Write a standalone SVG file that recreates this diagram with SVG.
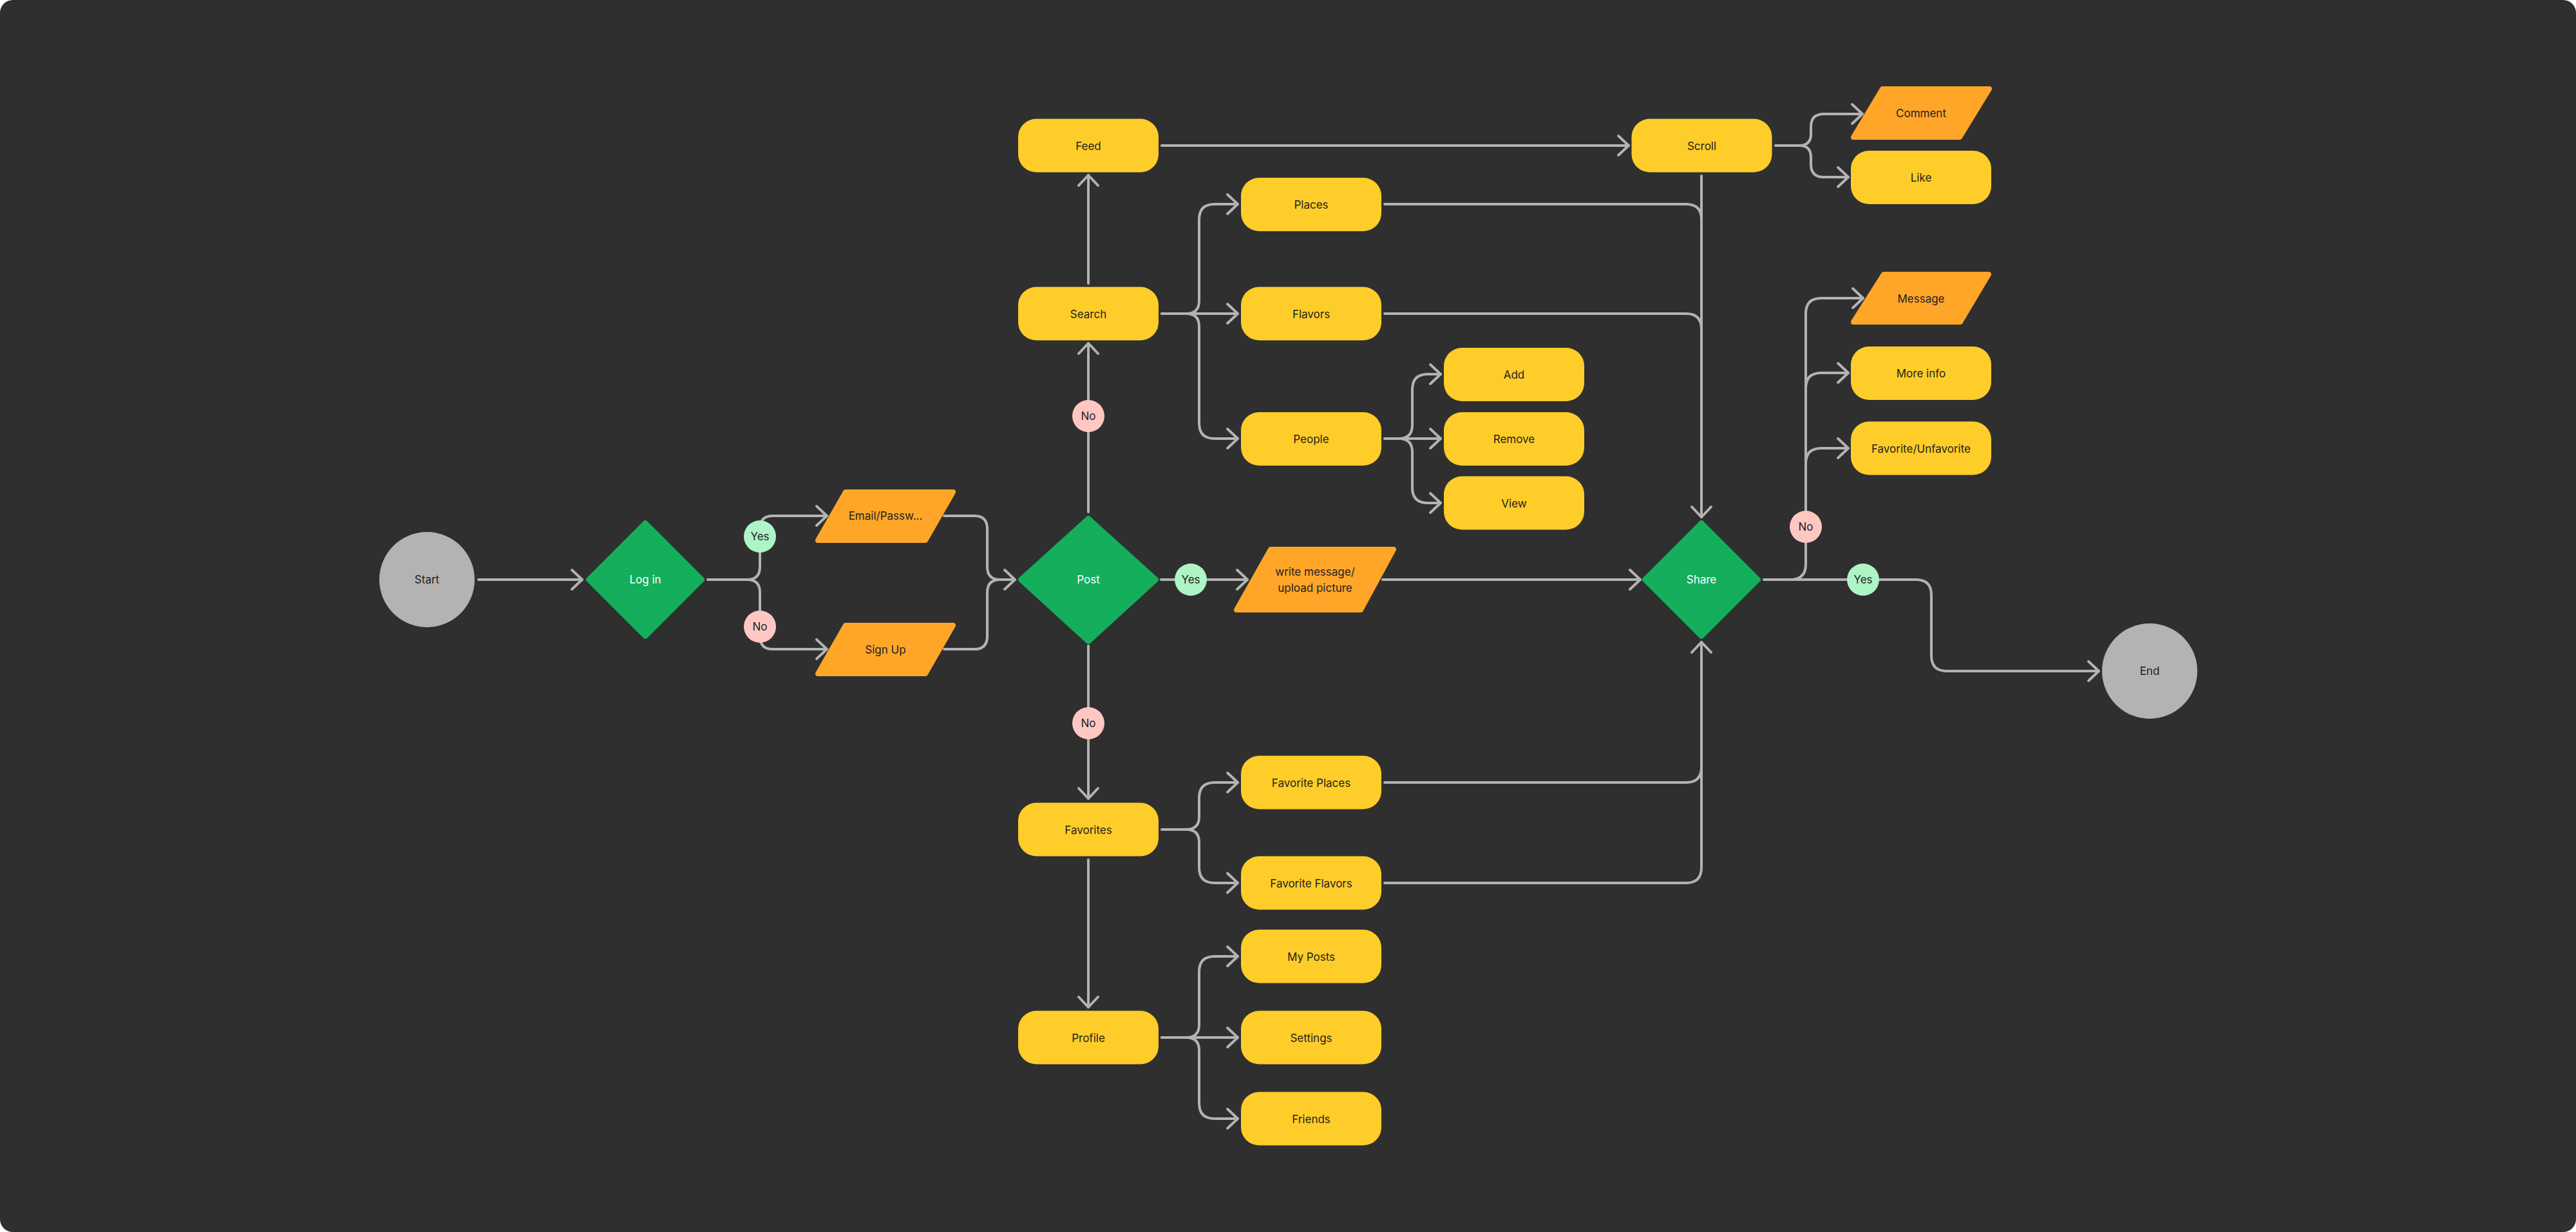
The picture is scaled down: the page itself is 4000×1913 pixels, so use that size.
<svg xmlns="http://www.w3.org/2000/svg" width="4000" height="1913" viewBox="0 0 4000 1913">
<style>
.box{fill:#FFCD29}
.io{fill:#FFA629;stroke:#FFA629;stroke-width:8;stroke-linejoin:round}
.dec{fill:#14AE5C;stroke:#14AE5C;stroke-width:8;stroke-linejoin:round}
.term{fill:#B3B3B3}
.yes{fill:#AFF4C6}
.no{fill:#FFC7C2}
text{font-family:Inter,"Noto Sans","Liberation Sans",sans-serif;font-size:17px;fill:#1E1E1E;text-anchor:middle;dominant-baseline:central}
.wt{fill:#FFFFFF}
.c{fill:none;stroke:#B3B3B3;stroke-width:4;stroke-linecap:round;stroke-linejoin:round}
.a{marker-end:url(#arr)}
</style>
<defs>
<marker id="arr" markerUnits="userSpaceOnUse" viewBox="-20 -20 24 40" refX="0" refY="0" markerWidth="24" markerHeight="40" orient="auto">
<path d="M-16,-15 L0,0 L-16,15" fill="none" stroke="#B3B3B3" stroke-width="4" stroke-linecap="round" stroke-linejoin="round"/>
</marker>
</defs>
<rect width="4000" height="1913" fill="#FFFFFF"/>
<rect width="4000" height="1913" rx="20" fill="#2F2F2F"/>

<g id="connectors">
<path class="c a" d="M743,900 H904"/>
<path class="c a" d="M1099,900 H1160 Q1180,900 1180,880 V821 Q1180,801 1200,801 H1284"/>
<path class="c a" d="M1160,900 Q1180,900 1180,920 V988 Q1180,1008 1200,1008 H1284"/>
<path class="c a" d="M1466,801 H1513 Q1533,801 1533,821 V880 Q1533,900 1553,900 H1576"/>
<path class="c" d="M1466,1008 H1513 Q1533,1008 1533,988 V920 Q1533,900 1553,900"/>
<path class="c a" d="M1690,795 V533"/>
<path class="c a" d="M1690,440 V272"/>
<path class="c a" d="M1804,226 H2529"/>
<path class="c a" d="M1804,487 H1842 Q1862,487 1862,467 V341 Q1862,317 1886,317 H1922"/>
<path class="c a" d="M1804,487 H1922"/>
<path class="c a" d="M1842,487 Q1862,487 1862,507 V657 Q1862,681 1886,681 H1922"/>
<path class="c a" d="M2150,681 H2172 Q2193,681 2193,660 V605 Q2193,581 2217,581 H2237"/>
<path class="c a" d="M2150,681 H2237"/>
<path class="c a" d="M2172,681 Q2193,681 2193,702 V757 Q2193,781 2217,781 H2237"/>
<path class="c a" d="M2757,226 H2794 Q2812,226 2812,208 V197 Q2812,177 2832,177 H2892"/>
<path class="c a" d="M2794,226 Q2812,226 2812,244 V255 Q2812,275 2832,275 H2870"/>
<path class="c a" d="M2642,273 V803"/>
<path class="c" d="M2150,317 H2618 Q2642,317 2642,341"/>
<path class="c" d="M2150,487 H2618 Q2642,487 2642,511"/>
<path class="c a" d="M1803,900 H1937"/>
<path class="c a" d="M2147,900 H2547"/>
<path class="c a" d="M1690,1003 V1240"/>
<path class="c a" d="M1690,1335 V1564"/>
<path class="c a" d="M1804,1288 H1842 Q1862,1288 1862,1268 V1239 Q1862,1215 1886,1215 H1922"/>
<path class="c a" d="M1842,1288 Q1862,1288 1862,1308 V1347 Q1862,1371 1886,1371 H1922"/>
<path class="c a" d="M1804,1611 H1842 Q1862,1611 1862,1591 V1509 Q1862,1485 1886,1485 H1922"/>
<path class="c a" d="M1804,1611 H1922"/>
<path class="c a" d="M1842,1611 Q1862,1611 1862,1631 V1713 Q1862,1737 1886,1737 H1922"/>
<path class="c" d="M2150,1215 H2618 Q2642,1215 2642,1191"/>
<path class="c a" d="M2150,1371 H2618 Q2642,1371 2642,1347 V997"/>
<path class="c a" d="M2739,900 H2975 Q2999,900 2999,924 V1018 Q2999,1042 3023,1042 H3259"/>
<path class="c a" d="M2780,900 Q2804,900 2804,876 V487 Q2804,463 2828,463 H2893"/>
<path class="c a" d="M2804,603 Q2804,579 2828,579 H2870"/>
<path class="c a" d="M2804,720 Q2804,696 2828,696 H2870"/>
<g id="badges">
<circle class="yes" cx="1180" cy="833" r="25"/><text x="1180" y="833">Yes</text>
<circle class="no" cx="1180" cy="973" r="25"/><text x="1180" y="973">No</text>
<circle class="no" cx="1690" cy="646" r="25"/><text x="1690" y="646">No</text>
<circle class="yes" cx="1849" cy="900" r="25"/><text x="1849" y="900">Yes</text>
<circle class="no" cx="1690" cy="1123" r="25"/><text x="1690" y="1123">No</text>
<circle class="no" cx="2804" cy="818" r="25"/><text x="2804" y="818">No</text>
<circle class="yes" cx="2893" cy="900" r="25"/><text x="2893" y="900">Yes</text>
</g>
</g>

<g id="start"><circle class="term" cx="663" cy="900" r="74"/><text x="663" y="900">Start</text></g>
<g id="end"><circle class="term" cx="3338" cy="1042" r="74"/><text x="3338" y="1042">End</text></g>
<g id="login"><polygon class="dec" points="1002,812 1090,900 1002,988 914,900"/><text class="wt" x="1002" y="900">Log in</text></g>
<g id="post"><polygon class="dec" points="1690,805 1795,900 1690,996 1585,900"/><text class="wt" x="1690" y="900">Post</text></g>
<g id="share"><polygon class="dec" points="2642,812 2730,900 2642,988 2554,900"/><text class="wt" x="2642" y="900">Share</text></g>

<g id="email"><polygon class="io" points="1313,764 1480,764 1437,839 1270,839"/><text x="1375" y="801">Email/Passw...</text></g>
<g id="signup"><polygon class="io" points="1313,971 1480,971 1437,1046 1270,1046"/><text x="1375" y="1009">Sign Up</text></g>
<g id="write"><polygon class="io" points="1973,853 2164,853 2113,947 1920,947"/><text x="2042" y="888">write message/</text><text x="2042" y="913">upload picture</text></g>
<g id="comment"><polygon class="io" points="2923,138 3089,138 3043,213 2878,213"/><text x="2983" y="176">Comment</text></g>
<g id="message"><polygon class="io" points="2925,426 3088,426 3044,500 2878,500"/><text x="2983" y="464">Message</text></g>

<g id="feed"><rect class="box" x="1581" y="184.5" width="218" height="83" rx="28"/><text x="1690" y="227">Feed</text></g>
<g id="search"><rect class="box" x="1581" y="445.5" width="218" height="83" rx="28"/><text x="1690" y="488">Search</text></g>
<g id="places"><rect class="box" x="1927" y="276" width="218" height="83" rx="28"/><text x="2036" y="318">Places</text></g>
<g id="flavors"><rect class="box" x="1927" y="445.5" width="218" height="83" rx="28"/><text x="2036" y="488">Flavors</text></g>
<g id="people"><rect class="box" x="1927" y="640" width="218" height="83" rx="28"/><text x="2036" y="682">People</text></g>
<g id="add"><rect class="box" x="2242" y="540" width="218" height="83" rx="28"/><text x="2351" y="582">Add</text></g>
<g id="remove"><rect class="box" x="2242" y="640" width="218" height="83" rx="28"/><text x="2351" y="682">Remove</text></g>
<g id="view"><rect class="box" x="2242" y="739.5" width="218" height="83" rx="28"/><text x="2351" y="782">View</text></g>
<g id="scroll"><rect class="box" x="2533.5" y="184.5" width="218" height="83" rx="28"/><text x="2642.5" y="227">Scroll</text></g>
<g id="like"><rect class="box" x="2874" y="234" width="218" height="83" rx="28"/><text x="2983" y="276">Like</text></g>
<g id="moreinfo"><rect class="box" x="2874" y="538" width="218" height="83" rx="28"/><text x="2983" y="580">More info</text></g>
<g id="favunfav"><rect class="box" x="2874" y="654.5" width="218" height="83" rx="28"/><text x="2983" y="697">Favorite/Unfavorite</text></g>
<g id="favorites"><rect class="box" x="1581" y="1246.5" width="218" height="83" rx="28"/><text x="1690" y="1289">Favorites</text></g>
<g id="favplaces"><rect class="box" x="1927" y="1173.5" width="218" height="83" rx="28"/><text x="2036" y="1216">Favorite Places</text></g>
<g id="favflavors"><rect class="box" x="1927" y="1329.5" width="218" height="83" rx="28"/><text x="2036" y="1372">Favorite Flavors</text></g>
<g id="myposts"><rect class="box" x="1927" y="1443.5" width="218" height="83" rx="28"/><text x="2036" y="1486">My Posts</text></g>
<g id="profile"><rect class="box" x="1581" y="1569.5" width="218" height="83" rx="28"/><text x="1690" y="1612">Profile</text></g>
<g id="settings"><rect class="box" x="1927" y="1569.5" width="218" height="83" rx="28"/><text x="2036" y="1612">Settings</text></g>
<g id="friends"><rect class="box" x="1927" y="1695.5" width="218" height="83" rx="28"/><text x="2036" y="1738">Friends</text></g>
</svg>
